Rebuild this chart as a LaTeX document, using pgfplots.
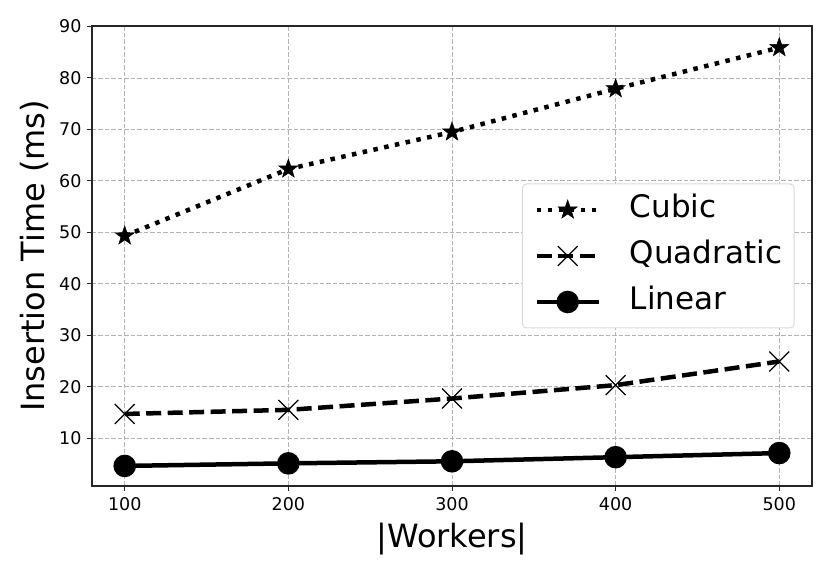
\documentclass[border=0pt]{standalone}
\usepackage{pgfplots}
\pgfplotsset{compat=1.18}
\usepackage{fontspec}
\setmainfont{DejaVu Sans}
\pgfdeclareplotmark{fstar}{%
  \pgfpathmoveto{\pgfpointpolar{90}{\pgfplotmarksize}}%
  \pgfpathlineto{\pgfpointpolar{126}{0.4\pgfplotmarksize}}%
  \pgfpathlineto{\pgfpointpolar{162}{\pgfplotmarksize}}%
  \pgfpathlineto{\pgfpointpolar{198}{0.4\pgfplotmarksize}}%
  \pgfpathlineto{\pgfpointpolar{234}{\pgfplotmarksize}}%
  \pgfpathlineto{\pgfpointpolar{270}{0.4\pgfplotmarksize}}%
  \pgfpathlineto{\pgfpointpolar{306}{\pgfplotmarksize}}%
  \pgfpathlineto{\pgfpointpolar{342}{0.4\pgfplotmarksize}}%
  \pgfpathlineto{\pgfpointpolar{18}{\pgfplotmarksize}}%
  \pgfpathlineto{\pgfpointpolar{54}{0.4\pgfplotmarksize}}%
  \pgfpathclose\pgfusepathqfillstroke}
\begin{document}
\begin{tikzpicture}
\begin{axis}[
  scale only axis, width=720pt, height=460pt,
  xmin=80, xmax=520, ymin=0.7, ymax=90.1,
  xtick={100,200,300,400,500},
  ytick={10,20,30,40,50,60,70,80,90},
  tick pos=left, tick align=outside,
  major tick length=5pt,
  every tick/.style={black!85, line width=1pt},
  axis line style={black!85, line width=1.2pt},
  grid=major,
  major grid style={gray!60, line width=0.9pt, dash pattern=on 4.5pt off 2pt},
  /pgf/number format/assume math mode=true,
  ticklabel style={font=\fontsize{17.5}{20}\selectfont},
  xticklabel style={yshift=-3pt},
  yticklabel style={xshift=-2pt},
  xlabel={|Workers|},
  ylabel={Insertion Time (ms)},
  label style={font=\fontsize{32}{36}\selectfont},
  xlabel style={at={(axis description cs:0.5,-0.115)}, anchor=center},
  ylabel style={at={(axis description cs:-0.08,0.5)}, anchor=center},
  legend style={at={(axis description cs:0.976,0.5)}, anchor=east,
    font=\fontsize{31}{36}\selectfont, draw=gray!30, line width=1pt,
    rounded corners=4pt, fill=white,
    row sep=16pt, column sep=29pt, inner xsep=12pt, inner ysep=11pt,
    nodes={text height=23pt, text depth=7pt, inner xsep=0pt, inner ysep=0pt}},
  legend cell align=left,
  legend image code/.code={%
    \draw[mark repeat=2,mark phase=2] plot coordinates {(0pt,0pt) (31pt,0pt) (62pt,0pt)};},
]
\addplot[black, line width=4.5pt, line cap=butt, dash pattern=on 4.5pt off 6.5pt,
  mark=fstar, mark size=10pt, mark options={solid, line width=0.5pt, fill=black}]
  coordinates {(100,49.3) (200,62.3) (300,69.5) (400,77.9) (500,85.9)};
\addlegendentry{Cubic}
\addplot[black, line width=4.5pt, line cap=butt, dash pattern=on 15pt off 6.5pt,
  mark=x, mark size=14pt, mark options={solid, line width=1.3pt}]
  coordinates {(100,14.7) (200,15.5) (300,17.7) (400,20.3) (500,24.9)};
\addlegendentry{Quadratic}
\addplot[black, line width=4.5pt, mark=*, mark size=9pt, mark options={solid, fill=black}]
  coordinates {(100,4.6) (200,5.1) (300,5.5) (400,6.3) (500,7.1)};
\addlegendentry{Linear}
\end{axis}
\path[use as bounding box] (current axis.south west) ++(-92pt,-89pt) rectangle ++(830pt,575pt);
\end{tikzpicture}
\end{document}
